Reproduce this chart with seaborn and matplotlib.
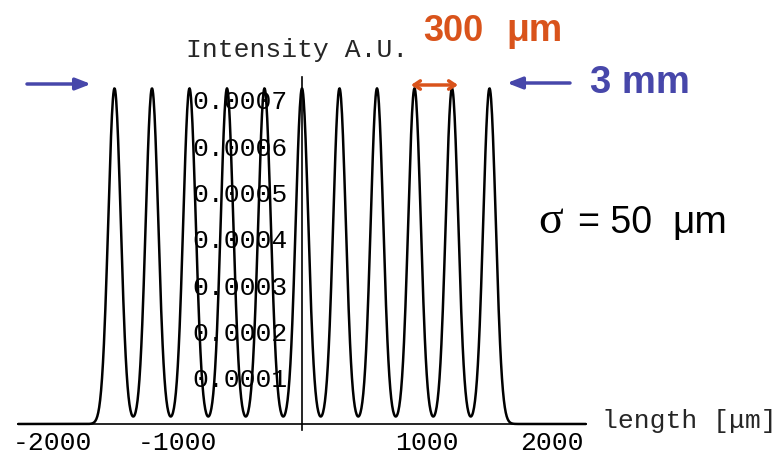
import numpy as np
import pandas as pd
import seaborn as sns
import matplotlib.pyplot as plt
from matplotlib.ticker import MultipleLocator

# --- data ---
peak_centers = [-1500, -1200, -900, -600, -300, 0, 300, 600, 900, 1200, 1500]  # um
peak_heights = [0.000725] * 11  # A.U.
peak_sigma = 50  # um

x_ticks = [-2000, -1000, 1000, 2000]
x_tick_labels = ['-2000', '-1000', '1000', '2000']
y_ticks = [0.0001, 0.0002, 0.0003, 0.0004, 0.0005, 0.0006, 0.0007]
y_tick_labels = ['0.0001', '0.0002', '0.0003', '0.0004', '0.0005', '0.0006', '0.0007']

# --- curve ---
length = np.linspace(-2270, 2270, 1200)
intensity = np.zeros_like(length)
for c, h in zip(peak_centers, peak_heights):
    intensity += h * np.exp(-(length - c) ** 2 / (2 * peak_sigma ** 2))
df = pd.DataFrame({'length': length, 'intensity': intensity})

sns.set_style('white')
plt.rcParams['font.family'] = ['Liberation Mono', 'DejaVu Sans Mono']
plt.rcParams['axes.unicode_minus'] = False

W, H = 778, 457
fig = plt.figure(figsize=(W / 100, H / 100), dpi=100)
ax = fig.add_axes([18.25 / W, 27 / H, 567.5 / W, 353.25 / H])

sns.lineplot(data=df, x='length', y='intensity', ax=ax, color='black',
             linewidth=1.8, clip_on=False)

ax.set_xlim(-2270, 2270)
ax.set_ylim(-0.000013, 0.00075)
for s in ['top', 'right']:
    ax.spines[s].set_visible(False)
ax.spines['left'].set_position(('data', 0))
ax.spines['bottom'].set_position(('data', 0))
for s in ['left', 'bottom']:
    ax.spines[s].set_linewidth(1.2)
    ax.spines[s].set_color('black')

ax.set_xticks(x_ticks)
ax.set_xticklabels(x_tick_labels)
ax.set_yticks(y_ticks)
ax.set_yticklabels(y_tick_labels)
ax.xaxis.set_minor_locator(MultipleLocator(200))
ax.yaxis.set_minor_locator(MultipleLocator(0.0000125))
ax.tick_params(axis='both', which='major', direction='in', length=5, width=1,
               labelsize=19, colors='black')
ax.tick_params(axis='both', which='minor', direction='in', length=3, width=1)
ax.tick_params(axis='x', which='major', pad=5)
ax.tick_params(axis='y', which='major', pad=10)
ax.set_xlabel('')
ax.set_ylabel('')

# axis labels in Mathematica style
fig.text(297 / W, 1 - 57 / H, 'Intensity A.U.', ha='center', va='baseline',
         fontsize=19)
fig.text(602 / W, 1 - 428 / H, 'length [μm]', ha='left', va='baseline',
         fontsize=19, family=['Liberation Mono', 'DejaVu Sans Mono'])

# annotations
orange = '#D9531B'
blue = '#4747AA'
sans = ['Liberation Sans', 'DejaVu Sans']
fig.text(423 / W, 1 - 41 / H, '300', ha='left', va='baseline', fontsize=26,
         fontweight='bold', color=orange, family=sans)
fig.text(506 / W, 1 - 41 / H, 'μm', ha='left', va='baseline', fontsize=27,
         fontweight='bold', color=orange, family=sans)
fig.text(590 / W, 1 - 93 / H, '3 mm', ha='left', va='baseline', fontsize=27.5,
         fontweight='bold', color=blue, family=sans)
fig.text(538 / W, 1 - 233 / H, 'σ', ha='left', va='baseline', fontsize=33,
         color='black', family=['Liberation Serif', 'DejaVu Serif'])
fig.text(578 / W, 1 - 233 / H, '= 50', ha='left', va='baseline', fontsize=27,
         color='black', family=sans)
fig.text(672 / W, 1 - 233 / H, 'μm', ha='left', va='baseline', fontsize=28,
         color='black', family=sans)

# arrows
def arrow(x0, y0, x1, y1, color, style):
    ax.annotate('', xy=(x1 / W, 1 - y1 / H), xytext=(x0 / W, 1 - y0 / H),
                xycoords='figure fraction', textcoords='figure fraction',
                arrowprops=dict(arrowstyle=style, color=color, lw=2.5,
                                shrinkA=0, shrinkB=0))

arrow(27, 84, 91, 84, blue, '-|>,head_length=0.9,head_width=0.35')
arrow(570, 83, 507, 83, blue, '-|>,head_length=0.9,head_width=0.35')
arrow(411, 85, 458, 85, orange, '<->,head_length=0.45,head_width=0.3')

fig.savefig('out.png', dpi=100)
